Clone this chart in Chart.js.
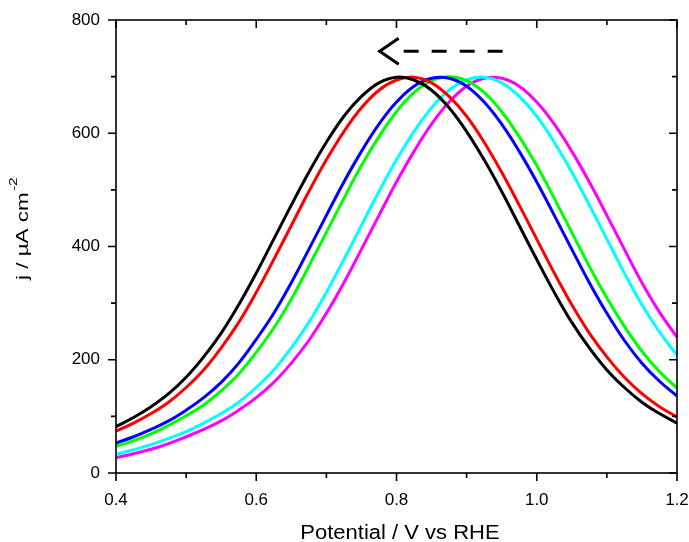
<!DOCTYPE html>
<html>
<head>
<meta charset="utf-8">
<script src="https://cdn.jsdelivr.net/npm/chart.js"></script>
<style>
  body { margin: 0; background: #fff; }
  canvas { display: block; }
</style>
</head>
<body>
<canvas id="chart" width="689" height="542"></canvas>
<script>
// potential (V vs RHE), sampled every 25 mV
const potential = [0.4, 0.425, 0.45, 0.475, 0.5, 0.525, 0.55, 0.575, 0.6, 0.625, 0.65, 0.675, 0.7, 0.725, 0.75, 0.775,
  0.8, 0.825, 0.85, 0.875, 0.9, 0.925, 0.95, 0.975, 1.0, 1.025, 1.05, 1.075, 1.1, 1.125, 1.15, 1.175, 1.2];

// current density, uA cm-2
const blackCurve = [82, 98, 117, 140, 169, 205, 247, 297, 353, 413, 473, 531, 584, 630, 665, 689,
  699, 694, 676, 645, 603, 553, 497, 437, 377, 319, 266, 221, 182, 151, 125, 105, 88];
const redCurve = [74, 88, 105, 125, 151, 182, 221, 266, 319, 377, 437, 497, 553, 603, 645, 676,
  694, 699, 689, 665, 630, 584, 531, 473, 413, 353, 297, 247, 205, 169, 140, 117, 99];
const blueCurve = [53, 64, 77, 92, 111, 133, 160, 194, 236, 282, 336, 395, 455, 514, 568, 616,
  655, 683, 697, 697, 683, 655, 616, 568, 514, 455, 395, 336, 282, 234, 194, 162, 136];
const greenCurve = [47, 57, 69, 84, 101, 120, 145, 175, 213, 256, 307, 365, 425, 485, 543, 594,
  638, 672, 693, 700, 693, 672, 638, 594, 543, 485, 425, 365, 309, 259, 215, 179, 150];
const cyanCurve = [33, 41, 50, 61, 73, 88, 105, 125, 151, 182, 221, 266, 319, 377, 437, 497,
  553, 603, 645, 676, 694, 699, 689, 665, 630, 584, 531, 473, 413, 353, 297, 249, 208];
const magentaCurve = [27, 34, 42, 52, 64, 77, 92, 111, 133, 160, 194, 234, 282, 336, 395, 455,
  514, 568, 616, 655, 683, 697, 697, 683, 655, 616, 568, 514, 455, 395, 336, 284, 240];

const curves = [
  { values: blackCurve, color: '#000000' },
  { values: redCurve, color: '#ff0000' },
  { values: blueCurve, color: '#0000ff' },
  { values: greenCurve, color: '#00ff00' },
  { values: cyanCurve, color: '#00ffff' },
  { values: magentaCurve, color: '#ff00ff' },
];

// axis ticks
const xMinorTicks = [0.5, 0.7, 0.9, 1.1];
const yMinorTicks = [100, 300, 500, 700];

// arrow showing the shift direction (data coords)
const arrowTip = [0.776, 745];
const arrowTailX = 0.953;

const FONT = '"Liberation Sans", Arial, sans-serif';

// frame, in/out ticks, axis titles and the arrow
const framePlugin = {
  id: 'framePlugin',
  afterDraw(chart) {
    const { ctx, chartArea: a, scales: { x, y } } = chart;
    ctx.save();
    ctx.strokeStyle = '#000';
    ctx.fillStyle = '#000';
    ctx.lineWidth = 1.6;
    ctx.strokeRect(a.left, a.top, a.right - a.left, a.bottom - a.top);

    const xTick = (v, len) => {
      const px = x.getPixelForValue(v);
      ctx.beginPath();
      ctx.moveTo(px, a.bottom); ctx.lineTo(px, a.bottom + len);
      ctx.moveTo(px, a.top); ctx.lineTo(px, a.top + len);
      ctx.stroke();
    };
    const yTick = (v, len) => {
      const py = y.getPixelForValue(v);
      ctx.beginPath();
      ctx.moveTo(a.left, py); ctx.lineTo(a.left - len, py);
      ctx.moveTo(a.right, py); ctx.lineTo(a.right - len, py);
      ctx.stroke();
    };
    x.ticks.forEach(t => xTick(t.value, 8));
    xMinorTicks.forEach(v => xTick(v, 5));
    y.ticks.forEach(t => yTick(t.value, 8));
    yMinorTicks.forEach(v => yTick(v, 5));

    // arrow
    const tipX = x.getPixelForValue(arrowTip[0]);
    const tipY = y.getPixelForValue(arrowTip[1]);
    ctx.lineWidth = 3;
    ctx.beginPath();
    ctx.moveTo(tipX + 19, tipY - 13);
    ctx.lineTo(tipX, tipY);
    ctx.lineTo(tipX + 19, tipY + 13);
    ctx.stroke();
    ctx.setLineDash([15, 13]);
    ctx.beginPath();
    ctx.moveTo(tipX + 24, tipY);
    ctx.lineTo(x.getPixelForValue(arrowTailX), tipY);
    ctx.stroke();
    ctx.setLineDash([]);

    // x title
    ctx.save();
    ctx.translate(400, 539);
    ctx.scale(1.1, 1);
    ctx.font = '20px ' + FONT;
    ctx.textAlign = 'center';
    ctx.textBaseline = 'alphabetic';
    ctx.fillText('Potential / V vs RHE', 0, 0);
    ctx.restore();

    // y title
    ctx.save();
    ctx.translate(28, 280);
    ctx.rotate(-Math.PI / 2);
    ctx.scale(1.4, 1);
    ctx.font = '16px ' + FONT;
    ctx.textAlign = 'left';
    ctx.textBaseline = 'alphabetic';
    const main = 'j / \u00b5A cm';
    ctx.fillText(main, 0, 0);
    const w = ctx.measureText(main).width;
    ctx.font = '11px ' + FONT;
    ctx.fillText('-2', w + 1, -11);
    ctx.restore();

    ctx.restore();
  }
};

new Chart(document.getElementById('chart'), {
  type: 'line',
  data: {
    datasets: curves.map(c => ({
      data: c.values.map((v, i) => ({ x: potential[i], y: v })),
      borderColor: c.color,
      borderWidth: 3,
      pointRadius: 0,
      fill: false,
      tension: 0.4,
    })),
  },
  options: {
    responsive: false,
    animation: false,
    layout: { padding: { top: 20, right: 12, left: 0, bottom: 0 } },
    plugins: { legend: { display: false }, tooltip: { enabled: false } },
    scales: {
      x: {
        type: 'linear',
        min: 0.4,
        max: 1.2,
        grid: { display: false },
        border: { display: false },
        ticks: {
          stepSize: 0.2,
          padding: 9,
          color: '#000',
          font: { family: FONT, size: 17 },
          callback: v => v.toFixed(1),
        },
        // keep the plot box fixed, labels may overhang
        afterFit: s => { s.height = 69; s.paddingLeft = 0; s.paddingRight = 0; },
      },
      y: {
        min: 0,
        max: 800,
        grid: { display: false },
        border: { display: false },
        ticks: {
          stepSize: 200,
          padding: 8,
          color: '#000',
          font: { family: FONT, size: 17 },
        },
        afterFit: s => { s.width = 116; s.paddingTop = 0; s.paddingBottom = 0; },
      },
    },
  },
  plugins: [framePlugin],
});
</script>
</body>
</html>
